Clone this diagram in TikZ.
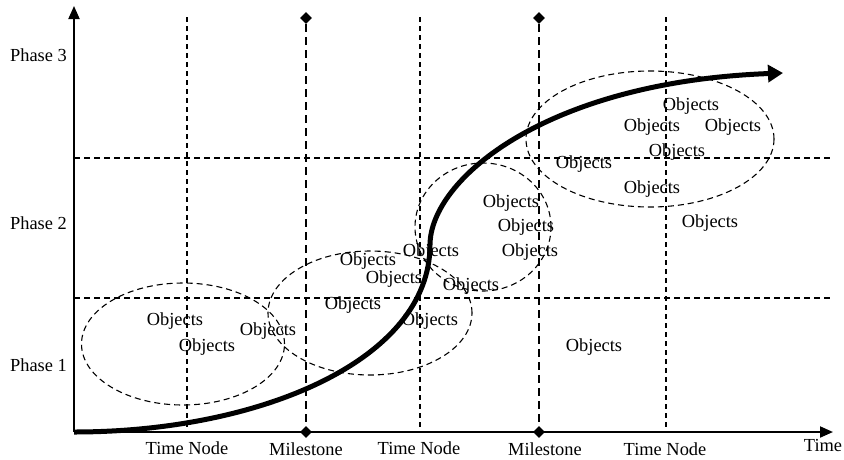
\documentclass[tikz,border=0pt]{standalone}
\usepackage{fontspec}
\setmainfont{Liberation Serif}
\usetikzlibrary{arrows.meta,shapes.geometric}
\begin{document}
\begin{tikzpicture}[x=1pt,y=-1pt,
  lbl/.style={font=\fontsize{18.4}{20}\selectfont, inner sep=0pt},
  gridline/.style={line width=1.1pt, dash pattern=on 6pt off 4pt},
  tline/.style={line width=1.1pt, dash pattern=on 5pt off 4pt},
  mline/.style={line width=2.2pt, dash pattern=on 8pt off 5pt},
  group/.style={draw, ellipse, line width=1.1pt, dash pattern=on 6pt off 4pt, inner sep=0pt},
  msign/.style={diamond, fill=black, inner sep=0pt, minimum size=12pt},
  axisline/.style={line width=2pt, -{Triangle[length=13pt,width=11pt]}},
  growth/.style={line width=5pt, -{Triangle[length=15pt,width=17pt]}},
]
\useasboundingbox (0,0) rectangle (844,459);

% axes anchors
\coordinate (O) at (74,432);
\coordinate (ytop) at (74,6);
\coordinate (xend) at (833,432);

% phase boundaries
\coordinate (h1a) at (74,158);  \coordinate (h1b) at (833,158);
\coordinate (h2a) at (74,298);  \coordinate (h2b) at (833,298);
\draw[gridline] (h1a) -- (h1b);
\draw[gridline] (h2a) -- (h2b);

% time nodes
\foreach \n/\x in {t1/187, t2/420, t3/666} {
  \coordinate (\n top) at (\x,17);
  \coordinate (\n bot) at (\x,432);
  \draw[tline] (\n top) -- (\n bot);
}

% milestones
\foreach \n/\x in {m1/306, m2/539} {
  \node[msign] (\n top) at (\x,18) {};
  \node[msign] (\n bot) at (\x,432) {};
  \draw[mline] (\n top) -- (\n bot);
}

% object groups
\node[group, minimum width=203pt, minimum height=122pt] (g1) at (183,344) {};
\node[group, minimum width=204pt, minimum height=124pt] (g2) at (370,313) {};
\node[group, minimum width=136pt, minimum height=128pt] (g3) at (483,227) {};
\node[group, minimum width=248pt, minimum height=136pt] (g4) at (650,139) {};

% objects
\foreach \n/\x/\y in {
  a1/175/321, a2/207/347, a3/268/331,
  b1/368/261, b2/394/279, b3/353/305, b4/430/321,
  c1/431/252, c2/511/203, c3/526/227, c4/530/252, c5/471/286,
  d1/691/106, d2/652/127, d3/733/127, d4/677/152, d5/584/164, d6/652/189,
  e1/710/223, e2/594/347} {
  \node[lbl] (\n) at (\x,\y) {Objects};
}

% phase labels
\node[lbl, anchor=east] (p3) at (67,55) {Phase 3};
\node[lbl, anchor=east] (p2) at (67,223) {Phase 2};
\node[lbl, anchor=east] (p1) at (67,365) {Phase 1};

% time axis labels
\node[lbl] (lt1) at (187,448) {Time Node};
\node[lbl] (lm1) at (306,449) {Milestone};
\node[lbl] (lt2) at (419,448) {Time Node};
\node[lbl] (lm2) at (545,449) {Milestone};
\node[lbl] (lt3) at (665,449) {Time Node};
\node[lbl] (ltime) at (823,445) {Time};

% progress curve
\coordinate (c0) at (74,432);
\coordinate (cm) at (430,245);
\coordinate (c1) at (783,73);
\draw[growth] (c0) .. controls (260,432) and (430,360) .. (cm)
  .. controls (430,180) and (545,82) .. (c1);

% axes
\draw[axisline] (O) -- (ytop);
\draw[axisline] (O) -- (xend);
\end{tikzpicture}
\end{document}
